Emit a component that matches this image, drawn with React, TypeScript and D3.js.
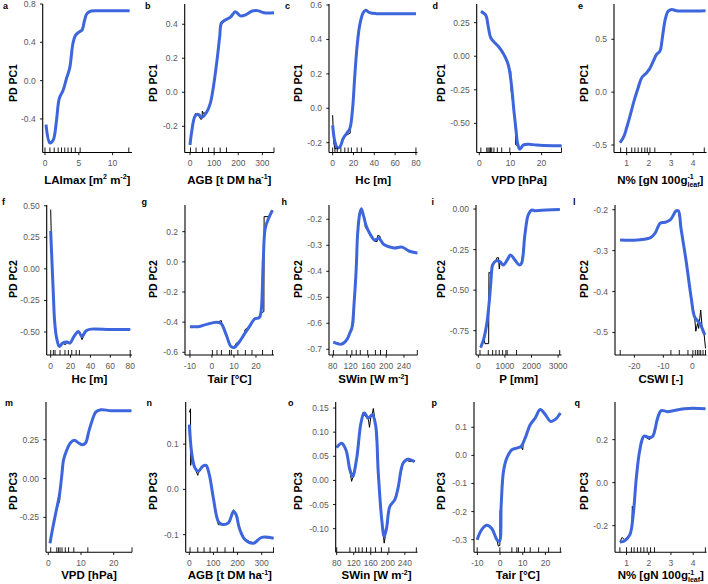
import * as d3 from "d3";

type Pt = [number, number];
type Seg = { t: string; sup?: boolean; sub?: boolean; back?: number };

// ---------- row 1 : PD PC1 ----------
const fitA: Pt[] = [[0.15,-0.46],[0.73,-0.65],[1.22,-0.62],[1.71,-0.41],[2.1,-0.19],[2.68,-0.1],[3.17,0.02],[3.65,0.13],[4.14,0.39],[4.53,0.475],[5.1,0.51],[5.5,0.53],[5.85,0.63],[6.2,0.7],[6.83,0.727],[8.05,0.73],[10,0.73],[12.5,0.73]];
const pdA: Pt[] = [[0.15,-0.46],[0.5,-0.6],[0.73,-0.66],[1.22,-0.62],[1.71,-0.41],[2.05,-0.2],[2.15,-0.16],[2.5,-0.14],[2.68,-0.11],[3.17,0.02],[3.65,0.13],[4.14,0.39],[4.53,0.475],[5.1,0.51],[5.5,0.53],[5.85,0.63],[6.2,0.7],[6.83,0.727],[8.05,0.73],[12.5,0.73]];
const rugA = [0, 0.73, 1.36, 1.95, 2.44, 2.92, 3.41, 3.9, 4.48, 5.2, 12.4];

const fitB: Pt[] = [[0,-0.31],[7,-0.232],[21,-0.14],[35,-0.13],[49,-0.147],[70,-0.114],[84,-0.065],[97,0.033],[112,0.19],[123,0.327],[130,0.406],[146,0.425],[167,0.441],[188,0.474],[209,0.449],[230,0.455],[258,0.478],[279,0.48],[307,0.468],[348,0.468]];
const pdB: Pt[] = [[0,-0.31],[7,-0.232],[18,-0.15],[22,-0.125],[28,-0.13],[35,-0.135],[45,-0.16],[50,-0.155],[51,-0.11],[56,-0.125],[70,-0.114],[84,-0.065],[97,0.033],[112,0.19],[123,0.327],[128,0.41],[135,0.405],[146,0.42],[167,0.441],[188,0.474],[209,0.449],[230,0.455],[258,0.478],[279,0.48],[307,0.468],[348,0.468]];
const rugB = [2, 25, 52, 77, 100, 125, 151, 348];

const fitC: Pt[] = [[0,-0.099],[2.2,-0.196],[4.4,-0.229],[7,-0.225],[10.1,-0.176],[13.3,-0.147],[16.5,-0.118],[19,-0.012],[21.2,0.182],[23.4,0.356],[26,0.483],[29.2,0.554],[31.7,0.57],[35.5,0.556],[41.9,0.55],[60,0.55],[80,0.55]];
const pdC: Pt[] = [[0,-0.04],[1,-0.2],[2.2,-0.235],[4.4,-0.235],[7,-0.225],[10.1,-0.18],[12,-0.16],[16.8,-0.145],[17,-0.1],[19,-0.012],[21.2,0.182],[23.4,0.356],[26,0.483],[29.2,0.554],[31.7,0.57],[35.5,0.556],[41.9,0.55],[80,0.55]];
const rugC = [0, 2.2, 4.4, 7.9, 11.7, 14.9, 18, 23.5, 27.6, 80];

const fitD: Pt[] = [[0.55,0.335],[1.3,0.322],[2.1,0.305],[2.9,0.218],[3.65,0.139],[4.7,0.107],[6.1,0.074],[7.7,0.02],[9,-0.042],[9.6,-0.092],[10.4,-0.228],[11.1,-0.402],[11.8,-0.551],[12.3,-0.65],[13,-0.692],[14.1,-0.662],[15.7,-0.655],[18.4,-0.662],[23.7,-0.667],[26.4,-0.667]];
const pdD: Pt[] = [[0.55,0.335],[1.3,0.322],[2.1,0.305],[2.9,0.218],[3.65,0.139],[4.7,0.107],[6.1,0.074],[7.7,0.02],[9,-0.042],[9.6,-0.092],[10.1,-0.11],[10.2,-0.25],[11.1,-0.402],[11.6,-0.54],[11.7,-0.66],[12.3,-0.665],[13,-0.692],[14.1,-0.662],[15.7,-0.655],[18.4,-0.662],[23.7,-0.667],[26.4,-0.667]];
const rugD = [0.5, 2.4, 2.8, 3.2, 3.6, 4.0, 4.7, 5.8, 7.2, 9.8, 26.4];

const fitE: Pt[] = [[0.7,-0.479],[0.88,-0.416],[1.0,-0.337],[1.15,-0.227],[1.33,-0.085],[1.52,0.042],[1.68,0.136],[1.87,0.177],[2.02,0.215],[2.2,0.293],[2.35,0.357],[2.5,0.388],[2.62,0.53],[2.74,0.688],[2.87,0.766],[3.03,0.782],[3.25,0.77],[4.55,0.77]];
const pdE: Pt[] = [[0.7,-0.479],[0.8,-0.46],[0.85,-0.44],[0.9,-0.42],[1.0,-0.337],[1.15,-0.227],[1.33,-0.085],[1.5,0.03],[1.52,0.06],[1.68,0.136],[1.87,0.177],[2.02,0.215],[2.2,0.293],[2.35,0.36],[2.5,0.388],[2.62,0.53],[2.74,0.688],[2.87,0.766],[3.03,0.782],[3.25,0.77],[4.55,0.77]];
const rugE = [0.73, 1.0, 1.23, 1.37, 1.52, 1.68, 1.82, 1.93, 2.05, 2.27, 4.5];

// ---------- row 2 : PD PC2 ----------
const fitF: Pt[] = [[0,0.3],[1.3,0.058],[2.7,-0.206],[4,-0.417],[6,-0.548],[8.7,-0.614],[12.1,-0.587],[16.2,-0.58],[19.5,-0.587],[23.5,-0.535],[27.9,-0.496],[31.3,-0.535],[35.7,-0.49],[40.4,-0.477],[60,-0.48],[80,-0.48]];
const pdF: Pt[] = [[0,0.47],[0.5,0.3],[1.3,0.058],[2.7,-0.206],[4,-0.417],[6,-0.548],[8.7,-0.614],[12.1,-0.59],[15,-0.6],[16.2,-0.58],[19.5,-0.59],[23.5,-0.535],[27,-0.5],[29,-0.5],[31.5,-0.56],[33,-0.535],[35.7,-0.49],[40.4,-0.477],[80,-0.48]];
const rugF = [0, 2.7, 4.4, 9.4, 14.4, 17.8, 21.2, 25.6, 28.9, 80];

const fitG: Pt[] = [[-10,-0.43],[-6.2,-0.43],[-2.5,-0.415],[2,-0.4],[4.2,-0.41],[6.5,-0.485],[8.7,-0.563],[10.2,-0.567],[12.5,-0.53],[14.7,-0.48],[17,-0.43],[19.3,-0.38],[21.5,-0.37],[22.3,-0.331],[23.3,0],[24.2,0.221],[25.7,0.287],[27.5,0.342]];
const pdG: Pt[] = [[-10,-0.43],[-6.2,-0.43],[-2.5,-0.415],[2,-0.4],[4.3,-0.39],[4.5,-0.42],[6.5,-0.485],[8.7,-0.563],[10.2,-0.567],[11,-0.54],[12.5,-0.53],[14.7,-0.49],[15,-0.45],[17,-0.43],[19.3,-0.375],[21.5,-0.37],[22.3,-0.34],[23.6,-0.33],[23.7,0.3],[25.8,0.3],[27.5,0.34]];
const rugG = [-10, 0.2, 2.3, 4.3, 8, 8.8, 11.8, 15.2, 18.2, 23, 27.5];

const fitH: Pt[] = [[81.4,-0.672],[100.4,-0.68],[111.7,-0.663],[119,-0.635],[123.1,-0.618],[128.3,-0.515],[132.8,-0.387],[135.8,-0.259],[140.3,-0.182],[144.2,-0.159],[149.4,-0.188],[155.5,-0.227],[164.6,-0.259],[174,-0.28],[183.4,-0.273],[194.7,-0.297],[217.4,-0.31],[236,-0.307],[251,-0.322],[270,-0.33]];
const pdH: Pt[] = [[81.4,-0.672],[100.4,-0.68],[111.7,-0.663],[119,-0.635],[123.1,-0.618],[127,-0.6],[128.3,-0.5],[132.8,-0.387],[135.8,-0.259],[140.3,-0.182],[144.2,-0.159],[149.4,-0.188],[152,-0.2],[153,-0.23],[164.6,-0.259],[174,-0.285],[180,-0.285],[181,-0.262],[186,-0.265],[188,-0.285],[194.7,-0.297],[217.4,-0.31],[236,-0.307],[251,-0.322],[270,-0.33]];
const rugH = [81.5, 111.7, 123, 132.8, 141.9, 158.5, 175.9, 187.3, 200.9, 270];

const fitI: Pt[] = [[90,-0.854],[213,-0.796],[313,-0.714],[400,-0.591],[464,-0.468],[513,-0.365],[538,-0.345],[663,-0.32],[813,-0.324],[938,-0.345],[1087,-0.314],[1212,-0.283],[1375,-0.314],[1537,-0.345],[1625,-0.334],[1750,-0.16],[1875,-0.037],[2000,-0.006],[2125,-0.01],[2562,-0.006],[3062,-0.002]];
const pdI: Pt[] = [[90,-0.854],[213,-0.8],[250,-0.83],[390,-0.83],[400,-0.39],[464,-0.4],[513,-0.365],[538,-0.345],[663,-0.32],[700,-0.3],[760,-0.3],[790,-0.37],[813,-0.33],[938,-0.345],[1087,-0.314],[1212,-0.283],[1375,-0.314],[1537,-0.345],[1625,-0.334],[1750,-0.16],[1875,-0.037],[2000,-0.006],[2125,-0.01],[2562,-0.006],[3062,-0.002]];
const rugI = [64, 375, 539, 663, 787, 914, 1037, 1086, 1438, 3060];

const fitL: Pt[] = [[-24.9,-0.274],[-19,-0.274],[-14.4,-0.268],[-12.9,-0.258],[-11.1,-0.233],[-9.5,-0.231],[-7.6,-0.225],[-5.6,-0.203],[-4.8,-0.203],[-3.9,-0.246],[-2.1,-0.327],[-0.35,-0.417],[0.8,-0.462],[2.6,-0.478],[4.3,-0.506]];
const pdL: Pt[] = [[-24.9,-0.274],[-19,-0.274],[-14.4,-0.268],[-12.9,-0.258],[-11.1,-0.233],[-9.5,-0.231],[-7.6,-0.225],[-5.6,-0.203],[-4.8,-0.203],[-3.9,-0.246],[-2.1,-0.327],[-0.35,-0.417],[0.8,-0.462],[1.2,-0.497],[1.8,-0.478],[2.2,-0.49],[2.9,-0.445],[3.5,-0.498],[4.1,-0.506],[4.56,-0.539]];
const rugL = [-24.9, -7.4, -4.5, -1.5, 0.2, 1.05, 1.75, 2.33, 2.9, 3.7, 4.56];

// ---------- row 3 : PD PC3 ----------
const fitM: Pt[] = [[0.53,-0.416],[1.36,-0.319],[2.39,-0.211],[3.42,-0.104],[4.15,0.025],[4.67,0.121],[5.5,0.175],[6.74,0.229],[7.98,0.246],[9.3,0.229],[10.4,0.218],[11.4,0.229],[12.4,0.304],[13.5,0.379],[14.5,0.428],[16.1,0.443],[19.2,0.437],[25.4,0.437]];
const pdM: Pt[] = [[0.53,-0.416],[1.36,-0.319],[2.39,-0.211],[3.5,-0.14],[3.6,-0.09],[4.15,0.025],[4.67,0.121],[5.5,0.175],[6.74,0.229],[7.98,0.246],[9.3,0.229],[10.4,0.218],[11.4,0.229],[12.4,0.304],[12.8,0.33],[13.5,0.379],[14.5,0.428],[16.1,0.443],[19.2,0.437],[25.4,0.437]];
const rugM = [0.74, 2.6, 3.1, 3.6, 4.2, 5.2, 6.2, 7.8, 12.1, 25.6];

const fitN: Pt[] = [[0,0.143],[10,0.08],[23.6,0.047],[37.3,0.04],[55.5,0.051],[69.3,0.053],[83,0.032],[99.6,-0.019],[120,-0.071],[134,-0.077],[162,-0.074],[183,-0.049],[194,-0.056],[207,-0.085],[231,-0.111],[266,-0.119],[300,-0.106],[349,-0.108]];
const pdN: Pt[] = [[0,0.17],[5,0.178],[5.5,0.053],[10,0.07],[23.6,0.047],[35,0.031],[37.3,0.036],[55.5,0.051],[69.3,0.053],[83,0.032],[99.6,-0.019],[120,-0.078],[134,-0.078],[162,-0.074],[183,-0.045],[194,-0.056],[207,-0.085],[231,-0.111],[266,-0.119],[300,-0.106],[349,-0.108]];
const rugN = [3, 35, 61, 86, 116, 148, 183, 349];

const fitO: Pt[] = [[80,0.068],[91.7,0.077],[101.8,0.063],[111,0.022],[117.5,0.008],[127,0.046],[137,0.119],[144.6,0.14],[154,0.129],[163.4,0.136],[171.3,0.115],[177.4,0.019],[185.4,-0.078],[191.5,-0.116],[197,-0.099],[204.8,-0.054],[216.5,-0.04],[224,-0.016],[236,0.036],[247.7,0.044],[263,0.039]];
const pdO: Pt[] = [[80,0.07],[91.7,0.077],[101.8,0.065],[111,0.02],[115,-0.002],[117.5,0.005],[127,0.046],[137,0.119],[141,0.14],[144.6,0.135],[154,0.129],[157,0.11],[160,0.13],[163.4,0.136],[166,0.149],[171.3,0.115],[177.4,0.019],[185.4,-0.078],[191.5,-0.13],[197,-0.099],[204.8,-0.054],[216.5,-0.04],[224,-0.016],[236,0.036],[244,0.045],[247.7,0.04],[263,0.039]];
const rugO = [80, 111, 124.5, 132, 140, 150, 160, 171, 185, 202.5, 267];

const fitP: Pt[] = [[-10.1,-0.3],[-8.1,-0.264],[-5.8,-0.249],[-3.6,-0.261],[-1.4,-0.3],[-0.3,-0.306],[0.5,-0.175],[1.5,-0.057],[3,-0.009],[5.2,0.02],[7.4,0.026],[9.3,0.032],[11.1,0.062],[13.3,0.109],[15.5,0.133],[17.7,0.163],[20,0.145],[22.2,0.121],[24.4,0.128],[26.6,0.151]];
const pdP: Pt[] = [[-10.1,-0.3],[-8.1,-0.264],[-5.8,-0.249],[-3.6,-0.261],[-1.4,-0.3],[-0.8,-0.323],[-0.1,-0.32],[0,-0.2],[0.5,-0.175],[1.5,-0.057],[3,-0.009],[5.2,0.02],[7.4,0.026],[9.3,0.03],[10,0.02],[10.3,0.05],[11.1,0.062],[13.3,0.109],[15.5,0.133],[17.7,0.163],[20,0.145],[22.2,0.121],[24.4,0.128],[26.6,0.151]];
const rugP = [-10.1, -0.1, 5.2, 7.4, 8.1, 10.8, 13.3, 17, 21.4, 26.6];

const fitQ: Pt[] = [[0.7,-0.276],[0.92,-0.27],[1.15,-0.242],[1.3,-0.149],[1.44,0.022],[1.6,0.153],[1.78,0.216],[2.04,0.21],[2.18,0.216],[2.4,0.3],[2.56,0.335],[2.85,0.33],[3.6,0.344],[4.55,0.344]];
const pdQ: Pt[] = [[0.7,-0.276],[0.8,-0.255],[0.9,-0.265],[1.0,-0.255],[1.15,-0.242],[1.24,-0.2],[1.26,-0.11],[1.3,-0.149],[1.44,0.022],[1.6,0.153],[1.78,0.216],[2.04,0.2],[2.18,0.216],[2.4,0.3],[2.56,0.335],[2.85,0.33],[3.6,0.344],[4.55,0.344]];
const rugQ = [0.7, 1.0, 1.22, 1.34, 1.49, 1.64, 1.78, 1.93, 2.08, 2.26, 4.55];

// axis titles
const labLai: Seg[] = [{ t: "LAImax [m" }, { t: "2", sup: true }, { t: " m" }, { t: "-2", sup: true }, { t: "]" }];
const labAgb: Seg[] = [{ t: "AGB [t DM ha" }, { t: "-1", sup: true }, { t: "]" }];
const labHc: Seg[] = [{ t: "Hc [m]" }];
const labVpd: Seg[] = [{ t: "VPD [hPa]" }];
const labN: Seg[] = [{ t: "N% [gN 100g" }, { t: "-1", sup: true }, { t: "leaf", sub: true, back: 0.89 }, { t: "]" }];
const labTair: Seg[] = [{ t: "Tair [°C]" }];
const labSw: Seg[] = [{ t: "SWin [W m" }, { t: "-2", sup: true }, { t: "]" }];
const labP: Seg[] = [{ t: "P [mm]" }];
const labCswi: Seg[] = [{ t: "CSWI [-]" }];

const panels = [
  { id: "a", fit: fitA, pd: pdA, rug: rugA, xDom: [-0.34, 12.87], yDom: [-0.75, 0.8], xTicks: [0, 5, 10], yTicks: [-0.4, 0, 0.4, 0.8], yFmt: ".1f", yTitle: "PD PC1", xTitle: labLai },
  { id: "b", fit: fitB, pd: pdB, rug: rugB, xDom: [-22, 348], yDom: [-0.354, 0.519], xTicks: [0, 100, 200, 300], yTicks: [-0.2, 0, 0.2, 0.4], yFmt: ".1f", yTitle: "PD PC1", xTitle: labAgb },
  { id: "c", fit: fitC, pd: pdC, rug: rugC, xDom: [-3.5, 81.5], yDom: [-0.257, 0.606], xTicks: [0, 20, 40, 60, 80], yTicks: [-0.2, 0, 0.2, 0.4, 0.6], yFmt: ".1f", yTitle: "PD PC1", xTitle: labHc },
  { id: "d", fit: fitD, pd: pdD, rug: rugD, xDom: [-0.83, 26.4], yDom: [-0.717, 0.389], xTicks: [0, 10, 20], yTicks: [-0.5, -0.25, 0, 0.25], yFmt: ".2f", yTitle: "PD PC1", xTitle: labVpd },
  { id: "e", fit: fitE, pd: pdE, rug: rugE, xDom: [0.43, 4.6], yDom: [-0.571, 0.834], xTicks: [1, 2, 3, 4], yTicks: [-0.5, 0, 0.5], yFmt: ".1f", yTitle: "PD PC1", xTitle: labN },
  { id: "f", fit: fitF, pd: pdF, rug: rugF, xDom: [-4, 81.8], yDom: [-0.682, 0.506], xTicks: [0, 20, 40, 60, 80], yTicks: [-0.5, -0.25, 0, 0.25, 0.5], yFmt: ".2f", yTitle: "PD PC2", xTitle: labHc },
  { id: "g", fit: fitG, pd: pdG, rug: rugG, xDom: [-12.25, 28.2], yDom: [-0.618, 0.377], xTicks: [-10, 0, 10, 20], yTicks: [-0.6, -0.4, -0.2, 0, 0.2], yFmt: ".1f", yTitle: "PD PC2", xTitle: labTair },
  { id: "h", fit: fitH, pd: pdH, rug: rugH, xDom: [71.6, 270.4], yDom: [-0.722, -0.145], xTicks: [80, 120, 160, 200, 240], yTicks: [-0.7, -0.6, -0.5, -0.4, -0.3, -0.2], yFmt: ".1f", yTitle: "PD PC2", xTitle: labSw },
  { id: "i", fit: fitI, pd: pdI, rug: rugI, xDom: [-86, 3127], yDom: [-0.9, 0.025], xTicks: [0, 1000, 2000, 3000], yTicks: [-0.75, -0.5, -0.25, 0], yFmt: ".2f", yTitle: "PD PC2", xTitle: labP },
  { id: "l", fit: fitL, pd: pdL, rug: rugL, xDom: [-26.7, 4.9], yDom: [-0.555, -0.1885], xTicks: [-20, -10, 0], yTicks: [-0.5, -0.4, -0.3, -0.2], yFmt: ".1f", yTitle: "PD PC2", xTitle: labCswi },
  { id: "m", fit: fitM, pd: pdM, rug: rugM, xDom: [-0.7, 25.6], yDom: [-0.475, 0.493], xTicks: [0, 10, 20], yTicks: [-0.25, 0, 0.25], yFmt: ".2f", yTitle: "PD PC3", xTitle: labVpd },
  { id: "n", fit: fitN, pd: pdN, rug: rugN, xDom: [-15, 351], yDom: [-0.139, 0.193], xTicks: [0, 100, 200, 300], yTicks: [-0.1, 0, 0.1], yFmt: ".1f", yTitle: "PD PC3", xTitle: labAgb },
  { id: "o", fit: fitO, pd: pdO, rug: rugO, xDom: [77.7, 269.7], yDom: [-0.149, 0.1625], xTicks: [80, 120, 160, 200, 240], yTicks: [-0.1, -0.05, 0, 0.05, 0.1, 0.15], yFmt: ".2f", yTitle: "PD PC3", xTitle: labSw },
  { id: "p", fit: fitP, pd: pdP, rug: rugP, xDom: [-11.5, 27.1], yDom: [-0.345, 0.19], xTicks: [-10, 0, 10, 20], yTicks: [-0.3, -0.2, -0.1, 0, 0.1], yFmt: ".1f", yTitle: "PD PC3", xTitle: labTair },
  { id: "q", fit: fitQ, pd: pdQ, rug: rugQ, xDom: [0.48, 4.6], yDom: [-0.324, 0.375], xTicks: [1, 2, 3, 4], yTicks: [-0.2, 0, 0.2], yFmt: ".1f", yTitle: "PD PC3", xTitle: labN },
];

// layout of the 3 x 5 grid (pixels)
const colRight = [132, 274, 417.5, 561.5, 706.5];
const rowTop = [4, 205, 402];
const rowBottom = [152.5, 355, 552.3];
const plotLeft = [
  [42.7, 184.7, 329, 476.7, 614],
  [46.7, 185, 329, 476, 615],
  [46, 185.7, 335.7, 474, 615],
];
const titleX = [16.5, 157, 302, 444.5, 588];
const titleY = [83, 279, 491];
const xTitleY = [183.5, 383, 579];
const letterX = [
  [3, 145, 285, 432.5, 578],
  [2, 141.5, 281.5, 431.5, 573],
  [5, 146.5, 288, 431.5, 574.5],
];
const letterY = [8.5, 205, 406];

const BLUE = "#3d66dd";
const GREY = "#595959";

const AxisTitle = ({ segs, x, y }: { segs: Seg[]; x: number; y: number }) => {
  let shift = 0;
  return (
    <text x={x} y={y} textAnchor="middle" fontWeight="bold" fontSize={11.5}>
      {segs.map((s, i) => {
        const target = s.sup ? -4.5 : s.sub ? 3 : 0;
        const dy = target - shift;
        shift = target;
        return (
          <tspan
            key={i}
            dy={dy}
            dx={s.back ? `-${s.back}em` : undefined}
            fontSize={s.sup || s.sub ? 7 : undefined}
          >
            {s.t}
          </tspan>
        );
      })}
    </text>
  );
};

const Panel = ({ p, i }: { p: (typeof panels)[number]; i: number }) => {
  const r = Math.floor(i / 5);
  const c = i % 5;
  const left = plotLeft[r][c];
  const right = colRight[c];
  const top = rowTop[r];
  const bottom = rowBottom[r];

  const x = d3.scaleLinear().domain(p.xDom).range([left, right]);
  const y = d3.scaleLinear().domain(p.yDom).range([bottom, top]);

  const fitPath = d3
    .line<Pt>()
    .x((d) => x(d[0]))
    .y((d) => y(d[1]))
    .curve(d3.curveCatmullRom.alpha(0.5))(p.fit);
  const pdPath = d3
    .line<Pt>()
    .x((d) => x(d[0]))
    .y((d) => y(d[1]))(p.pd);
  const fmt = d3.format(p.yFmt);

  return (
    <g>
      <text x={letterX[r][c]} y={letterY[r]} fontWeight="bold" fontSize={9}>
        {p.id}
      </text>
      <path d={pdPath ?? ""} fill="none" stroke="#000" strokeWidth={1} />
      <path d={fitPath ?? ""} fill="none" stroke={BLUE} strokeWidth={3} strokeLinejoin="round" />
      {p.rug.map((v, k) => (
        <line key={k} x1={x(v)} x2={x(v)} y1={bottom} y2={bottom - 5} stroke="#000" strokeWidth={0.9} />
      ))}
      <line x1={left} x2={left} y1={top} y2={bottom} stroke="#000" strokeWidth={1.1} />
      <line x1={left} x2={right} y1={bottom} y2={bottom} stroke="#000" strokeWidth={1.1} />
      {p.yTicks.map((v) => (
        <g key={v}>
          <line x1={left - 2.7} x2={left} y1={y(v)} y2={y(v)} stroke="#000" strokeWidth={0.9} />
          <text x={left - 7} y={y(v)} dy="0.35em" textAnchor="end" fontSize={8.5} fill={GREY}>
            {fmt(v).replace("\u2212", "-")}
          </text>
        </g>
      ))}
      {p.xTicks.map((v) => (
        <g key={v}>
          <line x1={x(v)} x2={x(v)} y1={bottom} y2={bottom + 2.7} stroke="#000" strokeWidth={0.9} />
          <text x={x(v)} y={bottom + 13.5} textAnchor="middle" fontSize={8.5} fill={GREY}>
            {String(v)}
          </text>
        </g>
      ))}
      <text
        transform={`translate(${titleX[c]},${titleY[r]}) rotate(-90)`}
        textAnchor="middle"
        fontWeight="bold"
        fontSize={10.5}
      >
        {p.yTitle}
      </text>
      <AxisTitle segs={p.xTitle} x={(left + right) / 2} y={xTitleY[r]} />
    </g>
  );
};

export default function App() {
  return (
    <svg
      width={708}
      height={584}
      style={{ position: "absolute", left: 0, top: 0, background: "#fff", display: "block" }}
      fontFamily="'Liberation Sans', Arial, Helvetica, sans-serif"
    >
      {panels.map((p, i) => (
        <Panel key={p.id} p={p} i={i} />
      ))}
    </svg>
  );
}
